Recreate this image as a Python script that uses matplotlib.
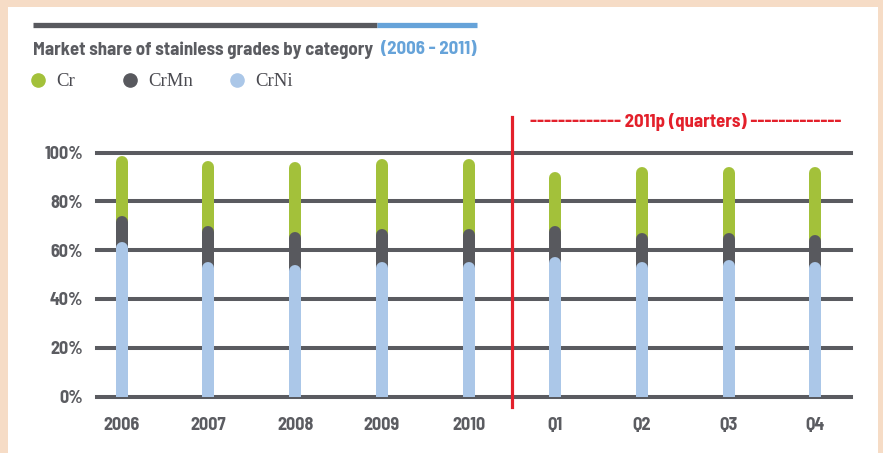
import matplotlib
matplotlib.use('Agg')
import matplotlib.pyplot as plt
from matplotlib.patches import Rectangle
from matplotlib.lines import Line2D

# segment shares in %, bottom to top
categories = ['2006', '2007', '2008', '2009', '2010', 'Q1', 'Q2', 'Q3', 'Q4']
cr_ni = [63.5, 55, 54, 55, 55, 57, 55, 56, 55]
cr_mn = [10.5, 15, 13.5, 13.5, 13.5, 13, 12, 11, 11]
cr = [24.5, 26.5, 28.5, 29, 29, 22, 27, 27, 28]
y_ticks = [0, 20, 40, 60, 80, 100]

GRID = '#5a5b60'
GREEN = '#a3c13a'
DARK = '#58595e'
LIGHT = '#abc7e8'
RED = '#e3202b'
BLUE = '#66a3d9'
TXT = '#5b5c61'
DIN = ['Barlow Semi Condensed', 'DejaVu Sans']

W, H = 883, 453
fig = plt.figure(figsize=(W / 100, H / 100), dpi=100)
fig.patch.set_facecolor('#f6dcc6')
fig.add_artist(Rectangle((8 / W, 0), 870 / W, 446 / H, transform=fig.transFigure,
                         facecolor='white', edgecolor='none', zorder=0))

# header rule
fig.add_artist(Line2D([33 / W, 377 / W], [1 - 25 / H] * 2, color=DARK, lw=3.8, solid_capstyle='butt'))
fig.add_artist(Line2D([377 / W, 477 / W], [1 - 25 / H] * 2, color=BLUE, lw=3.8, solid_capstyle='butt'))

t = fig.text(33 / W, 1 - 50 / H, 'Market share of stainless grades by category', va='center',
             ha='left', fontsize=13.5, fontweight='bold', color=TXT, family=DIN)
renderer = fig.canvas.get_renderer()
bb = t.get_window_extent(renderer)
fig.text((bb.x1 + 8) / W, 1 - 50 / H, '(2006 - 2011)', va='center', ha='left', fontsize=13.5,
         fontweight='bold', color=BLUE, family=DIN)

# legend
for name, col, mx in [('Cr', GREEN, 38), ('CrMn', DARK, 130), ('CrNi', LIGHT, 237)]:
    fig.add_artist(Line2D([mx / W], [1 - 80 / H], marker='o', markersize=9.5, color=col, lw=0))
    fig.text((mx + 18) / W, 1 - 81 / H, name, va='center', ha='left', fontsize=13.5,
             color='#4a4a50', family='Liberation Serif')

ymax = 110
ax = fig.add_axes([97 / W, (H - 396.5) / H, 754 / W, ymax * 2.44 / H])
ax.set_xlim(-0.285, 8.41)
ax.set_ylim(0, ymax)
ax.set_facecolor('none')
for s in ax.spines.values():
    s.set_visible(False)

for v in y_ticks:
    ax.axhline(v, color=GRID, lw=2.9, zorder=1, clip_on=False)

x = list(range(len(categories)))
tops_mn = [a + b for a, b in zip(cr_ni, cr_mn)]
tops_cr = [a + b for a, b in zip(tops_mn, cr)]

bar_px = 12
cap = (bar_px / 2) / (ax.bbox.height / ymax)
lw = bar_px * 72 / 100
for tops, col in [(tops_cr, GREEN), (tops_mn, DARK), (cr_ni, LIGHT)]:
    ax.vlines(x, 0, [v - cap for v in tops], colors=col, linewidth=lw, capstyle='round', zorder=3)

# divider between years and quarters
ax.axvline(4.5, ymin=-4.2 / ymax, ymax=114.7 / ymax, color=RED, lw=2.3, zorder=4, clip_on=False)
ax.text(6.5, 112.6, '------------- 2011p (quarters) -------------', ha='center', va='center',
        color=RED, fontsize=13.5, fontweight='bold', family=DIN, clip_on=False)

ax.set_yticks(y_ticks)
ax.set_yticklabels([f'{v}%' for v in y_ticks])
ax.set_xticks(x)
ax.set_xticklabels(categories)
ax.tick_params(length=0)
ax.tick_params(axis='y', pad=10)
ax.tick_params(axis='x', pad=15)
for lab in ax.get_xticklabels() + ax.get_yticklabels():
    lab.set_fontweight('bold')
    lab.set_fontsize(13)
    lab.set_color(TXT)
    lab.set_family(DIN)

fig.savefig('out.png', dpi=100, facecolor=fig.get_facecolor())
